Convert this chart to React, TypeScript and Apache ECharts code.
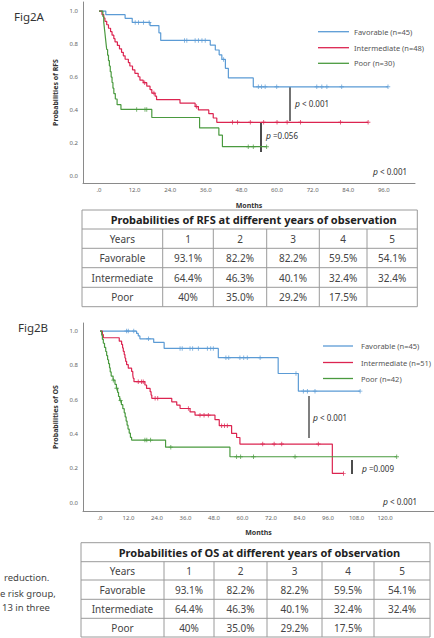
import React, { useEffect, useRef } from "react";
import * as echarts from "echarts";

// ---------- Data ----------
const rfsXTicks = [0, 12, 24, 36, 48, 60, 72, 84, 96];
const osXTicks = [0, 12, 24, 36, 48, 60, 72, 84, 96, 108, 120];
const yTicks = [0, 0.2, 0.4, 0.6, 0.8, 1.0];

// RFS (Fig2A)
const rfsFavTimes = [2.3, 8.8, 11.2, 17.2, 20.2, 20.8, 37.5, 39.2, 40.5, 41.4, 42.6, 43.6, 52.0];
const rfsFavSurv = [0.978, 0.956, 0.931, 0.912, 0.868, 0.822, 0.794, 0.764, 0.735, 0.707, 0.653, 0.595, 0.541];
const rfsFavCensor = [12.2, 13.3, 15.0, 16.9, 28.8, 29.6, 32.4, 33.5, 34.7, 35.8, 42.0, 53.7, 54.8, 56.0, 59.9, 73.4, 75.1, 76.8, 81.8, 97.4];

const rfsIntTimes = [1.0, 1.6, 2.0, 2.6, 3.2, 3.9, 4.4, 5.0, 5.4, 6.2, 6.9, 7.6, 8.2, 8.8, 9.9, 10.4, 11.3, 12.1, 13.2, 13.8, 14.9, 16.1, 17.2, 17.8, 18.9, 19.4, 27.3, 32.4, 33.5, 37.0, 38.5, 39.7];
const rfsIntSurv = [0.979, 0.958, 0.938, 0.917, 0.896, 0.875, 0.854, 0.833, 0.813, 0.792, 0.771, 0.75, 0.729, 0.708, 0.688, 0.667, 0.644, 0.623, 0.602, 0.581, 0.566, 0.545, 0.524, 0.503, 0.484, 0.463, 0.442, 0.421, 0.401, 0.378, 0.352, 0.326];
const rfsIntCensor = [15.4, 18.5, 32.9, 45.0, 46.7, 51.0, 55.5, 60.0, 63.4, 67.9, 81.4, 90.7];

const rfsPoorTimes = [1.3, 1.6, 1.8, 2.0, 2.2, 2.4, 2.6, 2.9, 3.2, 3.5, 3.8, 4.1, 4.4, 4.7, 5.0, 5.5, 6.1, 7.4, 17.8, 33.9, 40.4, 41.6];
const rfsPoorSurv = [0.967, 0.933, 0.9, 0.867, 0.833, 0.8, 0.767, 0.733, 0.7, 0.667, 0.633, 0.6, 0.567, 0.533, 0.5, 0.467, 0.433, 0.404, 0.355, 0.292, 0.248, 0.178];
const rfsPoorCensor = [12.7, 15.5, 16.1, 50.3, 52.0, 56.5];

// OS (Fig2B)
const osFavTimes = [15.4, 16.1, 16.8, 22.6, 27.0, 49.8, 75.0, 83.5];
const osFavSurv = [0.986, 0.972, 0.955, 0.934, 0.899, 0.845, 0.753, 0.65];
const osFavCensor = [11.2, 11.9, 14.2, 20.4, 33.7, 34.6, 37.9, 39.0, 41.4, 45.2, 46.6, 47.7, 53.0, 54.2, 58.9, 60.5, 62.0, 67.4, 82.5, 85.6, 87.3, 90.5, 109.5];

const osIntTimes = [1.0, 1.4, 8.1, 9.1, 9.5, 9.8, 10.2, 10.5, 10.8, 11.2, 11.9, 13.3, 13.8, 14.0, 14.3, 18.9, 19.6, 21.1, 21.5, 21.8, 30.2, 32.3, 33.7, 37.9, 40.0, 48.4, 50.2, 55.4, 57.5, 58.9, 97.8];
const osIntSurv = [0.98, 0.961, 0.941, 0.922, 0.902, 0.882, 0.863, 0.843, 0.824, 0.804, 0.784, 0.765, 0.745, 0.725, 0.705, 0.686, 0.666, 0.647, 0.627, 0.608, 0.588, 0.569, 0.549, 0.529, 0.51, 0.484, 0.449, 0.404, 0.38, 0.342, 0.171];
const osIntCensor = [16.1, 17.5, 18.2, 23.2, 24.3, 37.2, 42.1, 43.8, 45.6, 51.2, 52.4, 53.6, 68.5, 73.3, 76.5, 91.9, 102.5];

const osPoorTimes = [0.7, 1.0, 1.4, 1.9, 2.4, 2.8, 3.2, 3.6, 4.0, 4.3, 4.7, 5.5, 6.3, 6.9, 7.4, 7.8, 8.3, 9.0, 9.6, 10.2, 10.6, 11.0, 11.4, 11.8, 12.3, 12.8, 13.3, 27.6, 54.7];
const osPoorSurv = [0.976, 0.952, 0.929, 0.905, 0.881, 0.857, 0.833, 0.81, 0.786, 0.762, 0.738, 0.714, 0.69, 0.667, 0.643, 0.619, 0.595, 0.571, 0.548, 0.524, 0.5, 0.476, 0.452, 0.429, 0.405, 0.381, 0.365, 0.324, 0.268];
const osPoorCensor = [5.6, 7.0, 8.7, 18.9, 19.7, 21.3, 29.8, 57.5, 59.2, 64.6, 82.1, 124.9];

// Legends
const rfsLegend = ["Favorable (n=45)", "Intermediate (n=48)", "Poor (n=30)"];
const osLegend = ["Favorable (n=45)", "Intermediate (n=51)", "Poor (n=42)"];

// Tables
const tableHeader = ["Years", "1", "2", "3", "4", "5"];
const tableFavorable = ["Favorable", "93.1%", "82.2%", "82.2%", "59.5%", "54.1%"];
const tableIntermediate = ["Intermediate", "64.4%", "46.3%", "40.1%", "32.4%", "32.4%"];
const tablePoor = ["Poor", "40%", "35.0%", "29.2%", "17.5%", ""];

const sideText = ["reduction.", "e risk group,", "13 in three"];

// ---------- Helpers ----------
const COLORS = ["#5b9bd5", "#dc2450", "#4a9a3f"];
const FONT = "Noto Sans";
const PLUS = "path://M2,0H3V2H5V3H3V5H2V3H0V2H2Z";

function survAt(times: number[], surv: number[], t: number) {
  let s = 1;
  for (let i = 0; i < times.length; i++) if (times[i] <= t) s = surv[i];
  return s;
}

function kmSeries(times: number[], surv: number[], censor: number[], color: string, gi: number) {
  const end = Math.max(times[times.length - 1], ...censor);
  const pts: number[][] = [[0, 1]];
  times.forEach((t, i) => pts.push([t, surv[i]]));
  pts.push([end, surv[surv.length - 1]]);
  return [
    {
      type: "line",
      xAxisIndex: gi,
      yAxisIndex: gi,
      data: pts,
      step: "end",
      symbol: "none",
      lineStyle: { color, width: 1.2 },
      silent: true,
    },
    {
      type: "scatter",
      xAxisIndex: gi,
      yAxisIndex: gi,
      data: censor.map((c) => [c, survAt(times, surv, c)]),
      symbol: PLUS,
      symbolSize: 4.5,
      itemStyle: { color },
      silent: true,
    },
  ];
}

const fmtMonth = (v: number) => (v === 0 ? ".0" : v.toFixed(1));

function xAxisCfg(gi: number, min: number, max: number, ticks: number[], gap: number) {
  return {
    type: "value",
    gridIndex: gi,
    min,
    max,
    splitLine: { show: false },
    axisLine: { show: true, onZero: false, lineStyle: { color: "#8a8a8a", width: 1 } },
    axisTick: { show: false },
    axisLabel: { customValues: ticks, formatter: fmtMonth, fontSize: 6, color: "#666", margin: 4, fontFamily: FONT },
    name: "Months",
    nameLocation: "middle",
    nameGap: gap,
    nameTextStyle: { fontSize: 7, fontWeight: "bold", color: "#333", fontFamily: FONT },
  };
}

function yAxisCfg(gi: number, min: number, max: number, name: string, gap: number) {
  return {
    type: "value",
    gridIndex: gi,
    min,
    max,
    splitLine: { show: false },
    axisLine: { show: true, onZero: false, lineStyle: { color: "#8a8a8a", width: 1 } },
    axisTick: { show: false },
    axisLabel: { customValues: yTicks, formatter: (v: number) => v.toFixed(1), fontSize: 6, color: "#666", margin: 5, fontFamily: FONT },
    name,
    nameLocation: "middle",
    nameGap: gap,
    nameTextStyle: { fontSize: 7, fontWeight: "bold", color: "#333", fontFamily: FONT },
  };
}

function legendGraphics(x0: number, x1: number, tx: number, ys: number[], labels: string[]) {
  const els: any[] = [];
  labels.forEach((lab, i) => {
    els.push({ type: "line", shape: { x1: x0, y1: ys[i], x2: x1, y2: ys[i] }, style: { stroke: COLORS[i], lineWidth: 1.3 } });
    els.push({ type: "text", x: tx, y: ys[i], style: { text: lab, fontSize: 7.5, fill: "#555", fontFamily: FONT, verticalAlign: "middle" } });
  });
  return els;
}

function pText(x: number, y: number, rest: string) {
  return {
    type: "text",
    x,
    y,
    style: {
      text: "{i|p} " + rest,
      fontSize: 8,
      fill: "#333",
      fontFamily: FONT,
      verticalAlign: "middle",
      rich: { i: { fontStyle: "italic", fontSize: 8.5, fill: "#333", fontFamily: FONT } },
    },
  };
}

function tableGraphics(colX: number[], rowY: number[], title: string, rows: string[][]) {
  const els: any[] = [];
  const L = colX[0], R = colX[colX.length - 1], T = rowY[0], B = rowY[rowY.length - 1];
  const stroke = "#9a9a9a";
  els.push({ type: "rect", shape: { x: L, y: T, width: R - L, height: B - T }, style: { fill: "#fff", stroke, lineWidth: 1 } });
  for (let r = 1; r < rowY.length - 1; r++) {
    els.push({ type: "line", shape: { x1: L, y1: rowY[r], x2: R, y2: rowY[r] }, style: { stroke, lineWidth: 1 } });
  }
  for (let c = 1; c < colX.length - 1; c++) {
    els.push({ type: "line", shape: { x1: colX[c], y1: rowY[1], x2: colX[c], y2: B }, style: { stroke, lineWidth: 1 } });
  }
  els.push({
    type: "text",
    x: (L + R) / 2 + 4,
    y: (rowY[0] + rowY[1]) / 2,
    style: { text: title, fontSize: 11, fontWeight: "bold", fill: "#222", fontFamily: FONT, align: "center", verticalAlign: "middle" },
  });
  rows.forEach((row, r) => {
    row.forEach((cell, c) => {
      if (!cell) return;
      els.push({
        type: "text",
        x: (colX[c] + colX[c + 1]) / 2,
        y: (rowY[r + 1] + rowY[r + 2]) / 2,
        style: { text: cell, fontSize: 10, fill: "#444", fontFamily: FONT, align: "center", verticalAlign: "middle" },
      });
    });
  });
  return els;
}

export default function App() {
  const ref = useRef<HTMLDivElement>(null);
  useEffect(() => {
    document.body.style.margin = "0";
    const chart = echarts.init(ref.current!, null, { renderer: "svg" });
    const rows = [tableHeader, tableFavorable, tableIntermediate, tablePoor];
    const graphic: any[] = [
      { type: "text", x: 14, y: 16, style: { text: "Fig2A", fontSize: 11.5, fill: "#333", fontFamily: FONT, verticalAlign: "middle" } },
      { type: "text", x: 18, y: 327, style: { text: "Fig2B", fontSize: 11.5, fill: "#333", fontFamily: FONT, verticalAlign: "middle" } },
      ...legendGraphics(318, 349, 354, [31.7, 47.7, 63.3], rfsLegend),
      ...legendGraphics(323, 353, 361, [346, 362.5, 378.5], osLegend),
      { type: "line", shape: { x1: 290, y1: 87, x2: 290, y2: 121 }, style: { stroke: "#444", lineWidth: 1.5 } },
      pText(295, 103, "< 0.001"),
      { type: "line", shape: { x1: 261, y1: 123, x2: 261, y2: 152 }, style: { stroke: "#111", lineWidth: 1.5 } },
      pText(266, 135, "=0.056"),
      pText(373, 171, "< 0.001"),
      { type: "line", shape: { x1: 309, y1: 396, x2: 309, y2: 438 }, style: { stroke: "#555", lineWidth: 1.5 } },
      pText(313, 417, "< 0.001"),
      { type: "line", shape: { x1: 352, y1: 460, x2: 352, y2: 474 }, style: { stroke: "#111", lineWidth: 1.5 } },
      pText(362, 468, "=0.009"),
      pText(383, 501, "< 0.001"),
      ...tableGraphics([82, 162.7, 213.3, 266.7, 319.3, 367, 417.3], [210, 229, 248.3, 267.7, 287.3, 306.7], "Probabilities of RFS at different years of observation", rows),
      ...tableGraphics([81, 164, 214, 267, 322, 374, 430], [542.7, 561.7, 580, 599.3, 618.3, 637], "Probabilities of OS at different years of observation", rows),
      ...sideText.map((t, i) => ({
        type: "text",
        x: [4, 0, 2][i],
        y: [577.5, 593.5, 607][i],
        style: { text: t, fontSize: 9.5, fill: "#444", fontFamily: FONT, verticalAlign: "middle" },
      })),
    ];
    chart.setOption({
      animation: false,
      backgroundColor: "#fff",
      grid: [
        { left: 83, top: 2, width: 332, height: 181 },
        { left: 83, top: 323, width: 351, height: 188 },
      ],
      xAxis: [xAxisCfg(0, -5.39, 106.5, rfsXTicks, 19), xAxisCfg(1, -7.16, 140.6, osXTicks, 18)],
      yAxis: [yAxisCfg(0, -0.042, 1.055, "Probabilities of RFS", 21), yAxisCfg(1, -0.048, 1.047, "Probabilities of OS", 22)],
      series: [
        ...kmSeries(rfsFavTimes, rfsFavSurv, rfsFavCensor, COLORS[0], 0),
        ...kmSeries(rfsIntTimes, rfsIntSurv, rfsIntCensor, COLORS[1], 0),
        ...kmSeries(rfsPoorTimes, rfsPoorSurv, rfsPoorCensor, COLORS[2], 0),
        ...kmSeries(osFavTimes, osFavSurv, osFavCensor, COLORS[0], 1),
        ...kmSeries(osIntTimes, osIntSurv, osIntCensor, COLORS[1], 1),
        ...kmSeries(osPoorTimes, osPoorSurv, osPoorCensor, COLORS[2], 1),
      ],
      graphic,
    });
    return () => chart.dispose();
  }, []);
  return <div ref={ref} style={{ width: 434, height: 638 }} />;
}
